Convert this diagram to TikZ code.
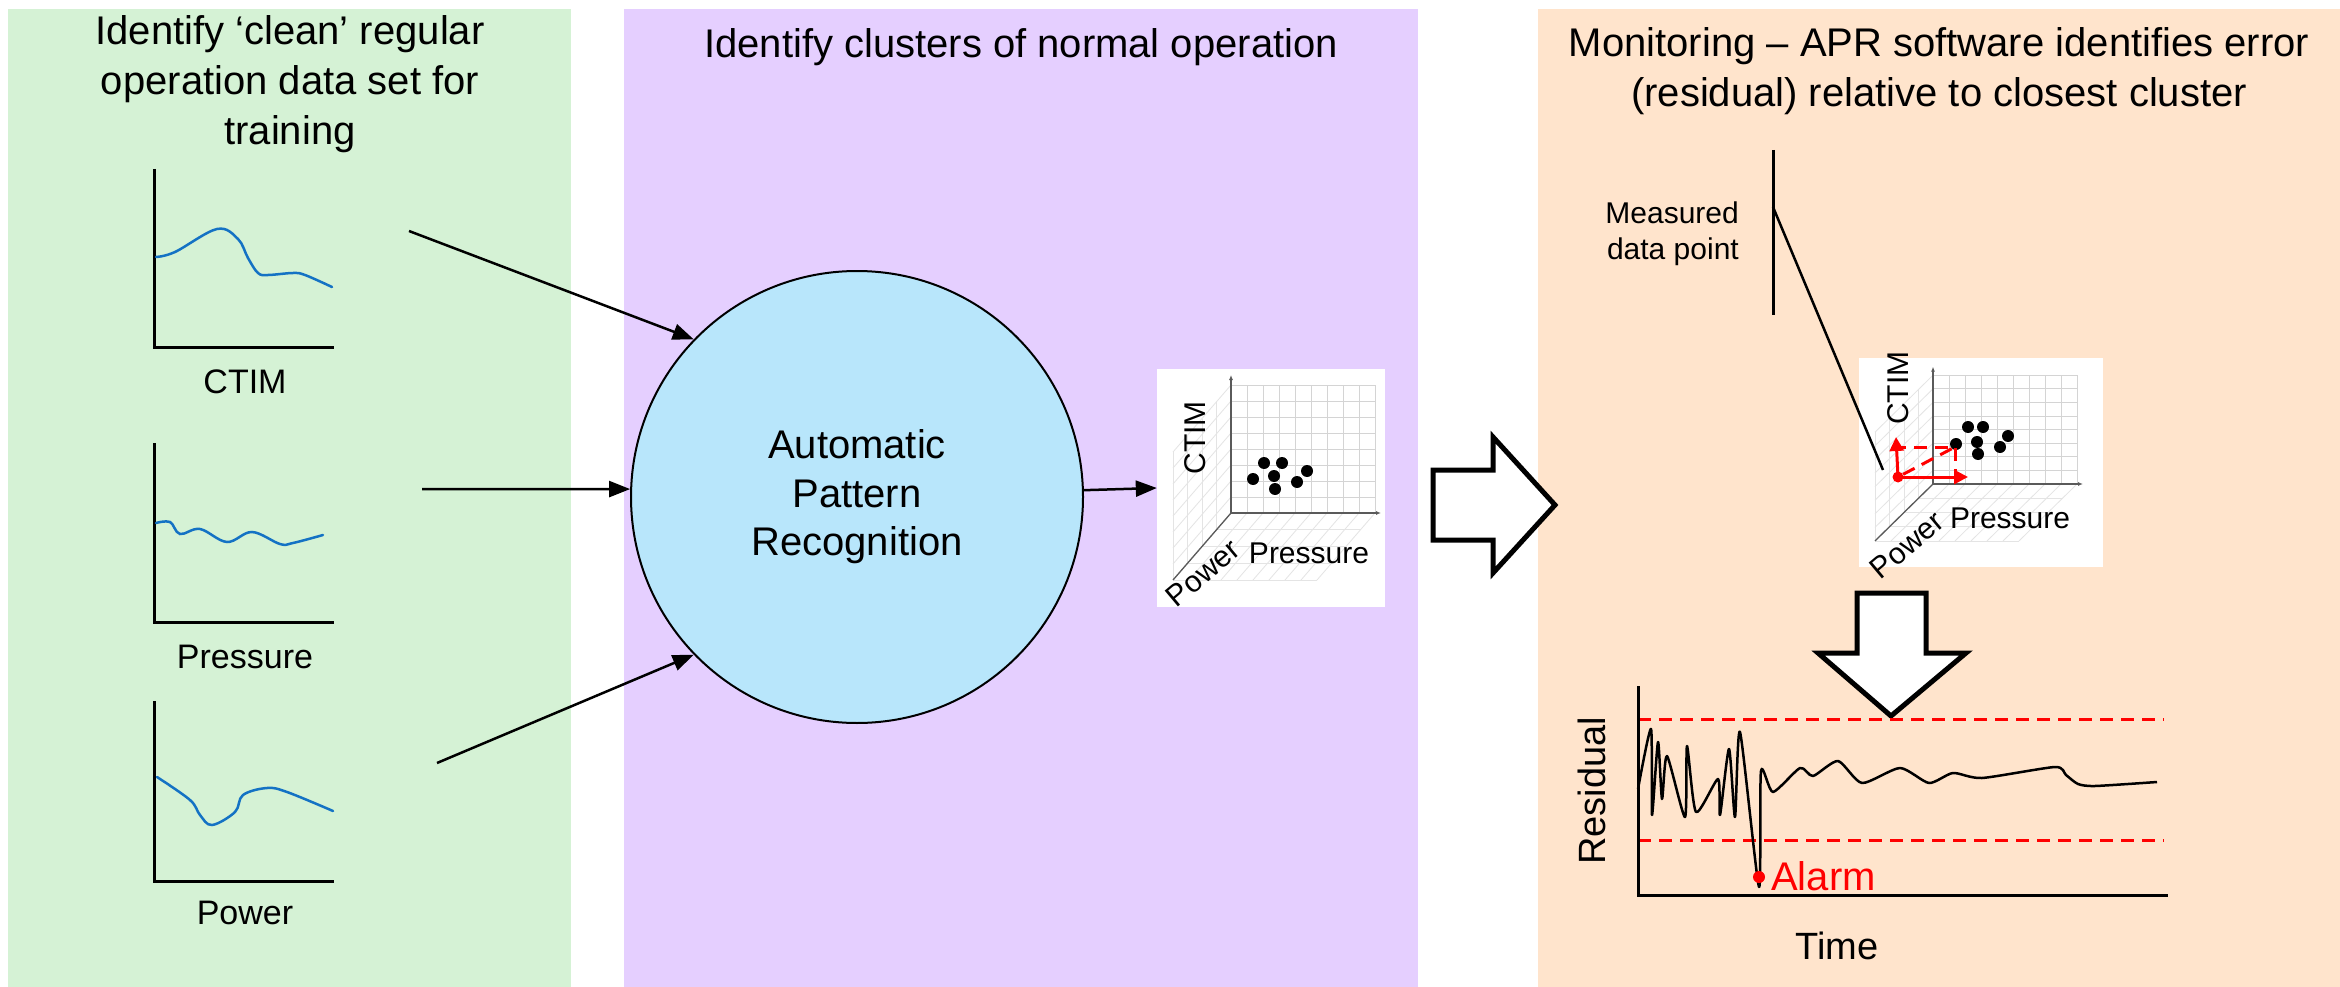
\documentclass[tikz,border=0pt]{standalone}
\usepackage{fontspec}
\setmainfont{Liberation Sans}
\usetikzlibrary{arrows.meta}
\definecolor{pgreen}{RGB}{213,242,213}
\definecolor{ppurple}{RGB}{229,207,255}
\definecolor{porange}{RGB}{255,228,204}
\definecolor{cblue}{RGB}{184,230,251}
\definecolor{lblue}{RGB}{20,114,196}
\definecolor{gridc}{RGB}{212,212,212}
\definecolor{gridl}{RGB}{228,228,228}
\definecolor{axc}{RGB}{90,90,90}
\newcommand{\cubegrid}[3]{%
  \begin{scope}[shift={(#1,#2)}, yscale=#3]
    \foreach \k in {1,...,8} \draw[gridl, line width=0.8pt] (0,-\k*16) -- ++(-58,67);
    \foreach \j in {1,...,4} \draw[gridl, line width=0.8pt] (-\j*14.5,\j*16.75) -- ++(0,-128);
    \foreach \i in {0,...,9} \draw[gridl, line width=0.8pt] (\i*16,0) -- ++(-58,67);
    \foreach \j in {1,...,4} \draw[gridl, line width=0.8pt] (-\j*14.5,\j*16.75) -- ++(144,0);
    \foreach \i in {1,...,9} \draw[gridc, line width=0.8pt] (\i*16,0) -- (\i*16,-128);
    \foreach \j in {1,...,8} \draw[gridc, line width=0.8pt] (0,-\j*16) -- (144,-\j*16);
    \draw[axc, line width=1.3pt, -{Latex[length=5pt,width=4pt]}] (0,0) -- (0,-138);
    \draw[axc, line width=1.3pt, -{Latex[length=5pt,width=4pt]}] (0,0) -- (150,0);
    \draw[axc, line width=1.3pt] (0,0) -- (-58,67);
  \end{scope}}
\begin{document}
\begin{tikzpicture}[x=1pt,y=-1pt,
  ttl/.style={font=\fontsize{40}{50}\selectfont, align=center, anchor=base, inner sep=0pt},
  lbl/.style={font=\fontsize{34}{40}\selectfont, inner sep=0pt},
  small/.style={font=\fontsize{30}{36}\selectfont, inner sep=0pt},
  ax/.style={line width=3pt, line join=miter},
  curve/.style={lblue, line width=2.5pt, line cap=round},
  conn/.style={line width=2.5pt, -{Triangle[length=21pt,width=16pt]}},
  bigarrow/.style={draw=black, fill=white, line width=5pt, line join=miter},
  dot/.style={circle, fill=black, inner sep=0pt, minimum size=12pt},
  reddash/.style={red, line width=3pt, dash pattern=on 13pt off 8pt},
  redarrow/.style={red, line width=3pt, -{Triangle[length=14pt,width=14pt]}}
]
\useasboundingbox (0,0) rectangle (2340,987);
\fill[white] (0,0) rectangle (2340,987);
% panels
\fill[pgreen] (8,9) rectangle (571,987);
\fill[ppurple] (624,9) rectangle (1418,987);
\fill[porange] (1538,9) rectangle (2340,987);

% titles (base anchor = baseline of the last line)
\node[ttl] (t1) at (290,145) {Identify ‘clean’ regular\\operation data set for\\training};
\node[ttl] (t2) at (1021,58) {Identify clusters of normal operation};
\node[ttl] (t3) at (1939,107) {Monitoring – APR software identifies error\\(residual) relative to closest cluster};

% left charts
\draw[ax] (154,169) -- (154,347) -- (334,347);
\draw[curve] plot[smooth, tension=0.6] coordinates {(156,257) (175,252) (217,229) (238,239) (248,258) (258,273) (268,275) (293,273) (305,275) (332,287)};
\node[lbl] (lctim) at (245,382) {CTIM};

\draw[ax] (154,443) -- (154,622) -- (334,622);
\draw[curve] plot[smooth, tension=0.6] coordinates {(156,523) (170,522) (180,534) (200,529) (227,542) (252,532) (280,544) (293,543) (323,535)};
\node[lbl] (lpres) at (245,657) {Pressure};

\draw[ax] (154,701) -- (154,881) -- (334,881);
\draw[curve] plot[smooth, tension=0.6] coordinates {(157,777) (190,800) (200,815) (212,825) (235,812) (243,795) (267,788) (287,792) (333,811)};
\node[lbl] (lpow) at (245,913) {Power};

% circle
\node[circle, draw=black, line width=2pt, fill=cblue, minimum size=452pt, inner sep=0pt,
      font=\fontsize{40}{48.5}\selectfont, align=center] (apr) at (857,497) {Automatic\\Pattern\\Recognition};

\coordinate (s1) at (409,231);
\coordinate (s2) at (422,489);
\coordinate (s3) at (437,763);
\draw[conn] (s1) -- (apr.136);
\draw[conn] (s2) -- (apr.178);
\draw[conn] (s3) -- (apr.224);

% cluster plot (purple)
\node[fill=white, minimum width=228pt, minimum height=238pt, inner sep=0pt] (clus) at (1271,488) {};
\draw[conn] (apr) -- (clus.west);
\cubegrid{1231}{513}{1}
\foreach \p [count=\n] in {(1264,463),(1282,463),(1274,476),(1253,479),(1297,482),(1307,471),(1275,489)}
  \node[dot] (pa\n) at \p {};
\node[small, rotate=90] (cctim) at (1195,438) {CTIM};
\node[small] (cpres) at (1309,553) {Pressure};
\node[small, rotate=40] (cpow) at (1203,573) {Power};

% big right arrow
\draw[bigarrow] (1433,470) -- (1493,470) -- (1493,437) -- (1555,505) -- (1493,573) -- (1493,540) -- (1433,540) -- cycle;

% monitoring plot (orange)
\node[small, align=right, anchor=east, font=\fontsize{30}{36}\selectfont] (meas) at (1739,234) {Measured\\data point};
\node[fill=white, minimum width=244pt, minimum height=209pt, inner sep=0pt] (mon) at (1981,462.5) {};
\cubegrid{1933}{484}{0.85}
\foreach \p [count=\n] in {(1968,427),(1983,427),(1977,442),(1956,444),(2000,447),(2008,436),(1978,454)}
  \node[dot] (pb\n) at \p {};
\node[small, rotate=90] (mctim) at (1898,388) {CTIM};
\node[small] (mpres) at (2010,518) {Pressure};
\node[small, rotate=40] (mpow) at (1907,545) {Power};

\coordinate (m1) at (1773,150);
\coordinate (m2) at (1773,315);
\coordinate (m3) at (1773,207);
\node[circle, fill=red, inner sep=0pt, minimum size=11pt] (mp) at (1898,477) {};
\draw[line width=3pt] (m1) -- (m2);
\draw[line width=2.5pt] (m3) -- (1883,470);
\coordinate (rc) at (1955,447);
\draw[reddash] (1893,447) -- (rc) -- (1955,477);
\draw[reddash] (mp) -- (rc);
\draw[redarrow] (mp.center) -- (1896,437);
\draw[redarrow] (mp.center) -- (1968,477);

% down arrow
\draw[bigarrow] (1857,593) -- (1926,593) -- (1926,653) -- (1966,653) -- (1891,716) -- (1818,653) -- (1857,653) -- cycle;

% residual chart
\draw[reddash] (1638,719) -- (2164,719);
\draw[reddash] (1638,840) -- (2164,840);
\draw[ax] (1638,686) -- (1638,895) -- (2168,895);
\draw[line width=2.5pt, line join=round] plot[smooth, tension=0.4] coordinates {(1638,789) (1651,729) (1652,815) (1658,742) (1662,799) (1667,756) (1685,817) (1687,746) (1696,812) (1718,779) (1720,815) (1729,749) (1735,817) (1740,732) (1759,887) (1761,771) (1773,792) (1800,768) (1813,776) (1838,761) (1862,783) (1900,768) (1929,783) (1953,773) (1982,778) (2055,767) (2066,775) (2078,784) (2095,786) (2157,782)};
\node[circle, fill=red, inner sep=0pt, minimum size=12pt] (alarmdot) at (1759,877) {};
\node[font=\fontsize{40}{48}\selectfont, text=red, anchor=west, inner sep=0pt] (alarm) at (1771,876) {Alarm};
\node[font=\fontsize{38}{44}\selectfont, rotate=90, inner sep=0pt] (resid) at (1592,791) {Residual};
\node[font=\fontsize{38}{44}\selectfont, inner sep=0pt] (time) at (1837,946) {Time};
\end{tikzpicture}
\end{document}
